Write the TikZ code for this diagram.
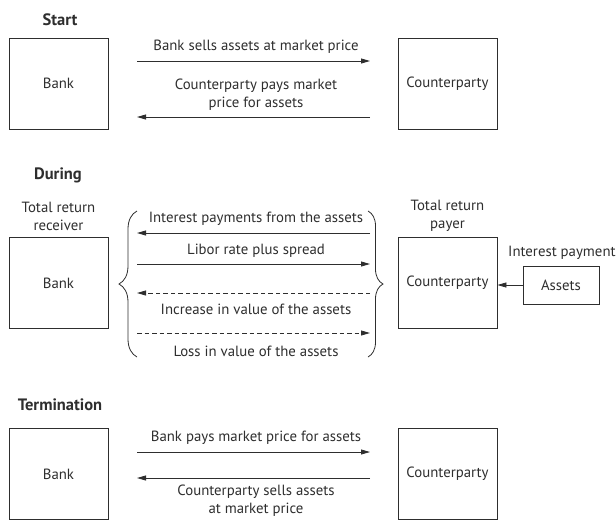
\documentclass[tikz,border=0pt]{standalone}
\usepackage{fontspec}
\setmainfont{PT Sans}
\usetikzlibrary{arrows.meta,decorations.pathreplacing}
\definecolor{ink}{HTML}{2E2E2E}
\begin{document}
\begin{tikzpicture}[x=1pt,y=-1pt,
  every node/.style={font=\fontsize{14.8}{18}\selectfont, text=ink, inner sep=0pt},
  box/.style={draw=ink, line width=0.8pt, minimum width=99pt, minimum height=91pt},
  smallbox/.style={draw=ink, line width=0.8pt, minimum width=76pt, minimum height=38pt},
  title/.style={font=\fontsize{16.5}{18}\selectfont\bfseries},
  flow/.style={draw=ink, line width=0.8pt, -{Triangle[length=9pt,width=5pt]}},
  dflow/.style={flow, dash pattern=on 4.5pt off 3pt},
  lbl/.style={align=center},
  brc/.style={draw=ink, line width=0.8pt, decorate, decoration={brace, amplitude=#1}}
]
\useasboundingbox (0,0) rectangle (616,520);

% ---------- Start ----------
\node[title] (tStart) at (60,20) {Start};
\node[box] (bankS) at (58.5,83.5) {Bank};
\node[box] (cpS) at (447.5,83.5) {Counterparty};
\coordinate (s1a) at (137,61);  \coordinate (s1b) at (370,61);
\coordinate (s2a) at (370,117); \coordinate (s2b) at (137,117);
\draw[flow] (s1a) -- (s1b);
\draw[flow] (s2a) -- (s2b);
\node[lbl] (ls1) at (256,47) {Bank sells assets at market price};
\node[lbl] (ls2) at (256,95) {Counterparty pays market\\price for assets};

% ---------- During ----------
\node[title] (tDuring) at (58,175) {During};
\node[lbl] (recv) at (58.5,216) {Total return\\receiver};
\node[lbl] (payer) at (447.5,216) {Total return\\payer};
\node[box] (bankD) at (58.5,283) {Bank};
\node[box] (cpD) at (447.5,283) {Counterparty};
\node[smallbox] (assets) at (561,285) {Assets};
\node[anchor=west] (ip) at (508,253) {Interest payment};
\draw[flow] (assets.west) -- (cpD.east |- assets.west);

\coordinate (d1a) at (370,233); \coordinate (d1b) at (137,233);
\coordinate (d2a) at (137,264); \coordinate (d2b) at (370,264);
\coordinate (d3a) at (370,293); \coordinate (d3b) at (137,293);
\coordinate (d4a) at (137,333); \coordinate (d4b) at (370,333);
\draw[flow] (d1a) -- (d1b);
\draw[flow] (d2a) -- (d2b);
\draw[dflow] (d3a) -- (d3b);
\draw[dflow] (d4a) -- (d4b);
\node[lbl] (ld1) at (256,219) {Interest payments from the assets};
\node[lbl] (ld2) at (256,251) {Libor rate plus spread};
\node[lbl] (ld3) at (256,309) {Increase in value of the assets};
\node[lbl] (ld4) at (256,351) {Loss in value of the assets};

\coordinate (bl1) at (137,357); \coordinate (bl2) at (137,211);
\coordinate (br1) at (368,211); \coordinate (br2) at (368,357);
\draw[brc=18] (bl1) -- (bl2);
\draw[brc=15] (br1) -- (br2);

% ---------- Termination ----------
\node[title] (tTerm) at (60,405) {Termination};
\node[box] (bankT) at (58.5,474) {Bank};
\node[box] (cpT) at (447.5,474) {Counterparty};
\coordinate (t1a) at (137,452); \coordinate (t1b) at (370,452);
\coordinate (t2a) at (370,478); \coordinate (t2b) at (137,478);
\draw[flow] (t1a) -- (t1b);
\draw[flow] (t2a) -- (t2b);
\node[lbl] (lt1) at (256,438) {Bank pays market price for assets};
\node[lbl] (lt2) at (256,501) {Counterparty sells assets\\at market price};
\end{tikzpicture}
\end{document}
